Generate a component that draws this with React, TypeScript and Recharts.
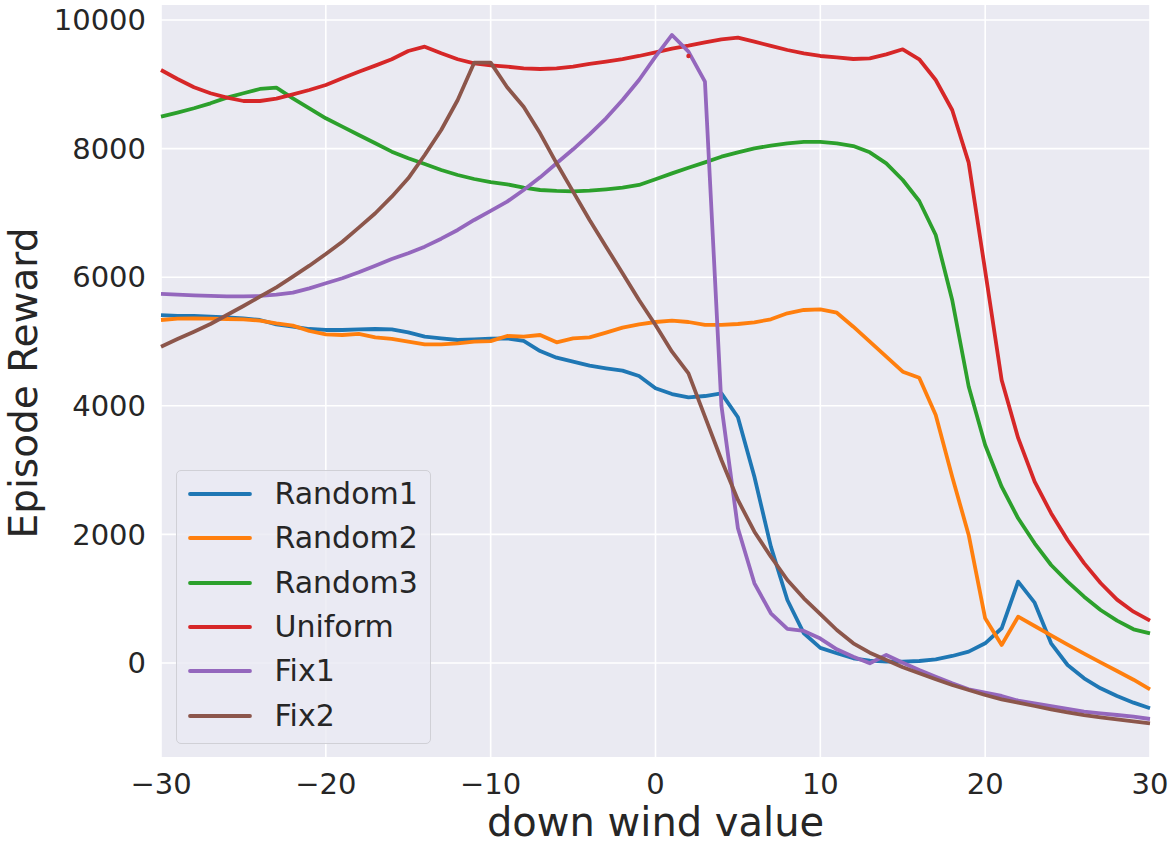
import React from 'react'
import { ComposedChart, Line, XAxis, YAxis, CartesianGrid, Label } from 'recharts'

// down wind values, one sample per integer step
const windValues = [
  -30, -29, -28, -27, -26, -25, -24, -23, -22, -21, -20, -19, -18, -17, -16, -15, -14, -13, -12, -11,
  -10, -9, -8, -7, -6, -5, -4, -3, -2, -1, 0, 1, 2, 3, 4, 5, 6, 7, 8, 9,
  10, 11, 12, 13, 14, 15, 16, 17, 18, 19, 20, 21, 22, 23, 24, 25, 26, 27, 28, 29, 30,
]

const random1 = [
  5410, 5397, 5397, 5386, 5376, 5360, 5334, 5267, 5230, 5194, 5179, 5179, 5189, 5194, 5189, 5143, 5075, 5049, 5023, 5034,
  5045, 5049, 5008, 4852, 4748, 4686, 4624, 4583, 4546, 4463, 4272, 4183, 4132, 4152, 4194, 3821, 2897, 1809, 980, 462,
  235, 151, 73, 36, 20, 20, 31, 57, 109, 176, 306, 540, 1265, 938, 306, -31, -238, -394, -513, -617, -705,
]

const random2 = [
  5334, 5355, 5360, 5355, 5350, 5345, 5324, 5282, 5246, 5163, 5111, 5101, 5117, 5065, 5039, 4997, 4956, 4956, 4972, 4997,
  5005, 5086, 5075, 5101, 4987, 5049, 5065, 5137, 5215, 5267, 5303, 5324, 5303, 5257, 5257, 5272, 5298, 5345, 5438, 5490,
  5500, 5448, 5230, 4997, 4764, 4530, 4437, 3857, 2897, 1991, 695, 280, 720, 575, 430, 285, 145, 10, -125, -260, -410,
]

const random3 = [
  8497, 8559, 8627, 8704, 8792, 8860, 8927, 8947, 8782, 8627, 8471, 8341, 8211, 8082, 7952, 7849, 7760, 7667, 7589, 7527,
  7478, 7444, 7392, 7356, 7341, 7336, 7346, 7367, 7392, 7434, 7522, 7615, 7703, 7786, 7874, 7942, 8004, 8045, 8082, 8103,
  8103, 8082, 8040, 7942, 7771, 7512, 7185, 6656, 5645, 4300, 3390, 2742, 2250, 1861, 1524, 1265, 1031, 824, 658, 524, 460,
]

const uniform = [
  9222, 9082, 8953, 8860, 8792, 8740, 8740, 8776, 8844, 8911, 8989, 9093, 9196, 9290, 9389, 9518, 9585, 9482, 9389, 9326,
  9295, 9274, 9248, 9238, 9248, 9274, 9316, 9352, 9393, 9440, 9497, 9554, 9600, 9652, 9700, 9725, 9663, 9596, 9533, 9482,
  9440, 9420, 9393, 9404, 9466, 9544, 9389, 9067, 8600, 7781, 6100, 4400, 3500, 2820, 2330, 1913, 1553, 1244, 985, 798, 658,
]

const fix1 = [
  5739, 5728, 5718, 5708, 5703, 5703, 5708, 5728, 5759, 5827, 5905, 5983, 6076, 6179, 6283, 6372, 6475, 6599, 6734, 6890,
  7030, 7175, 7356, 7553, 7771, 7989, 8222, 8471, 8756, 9067, 9430, 9767, 9507, 9041, 4000, 2095, 1239, 773, 529, 498,
  380, 213, 98, -5, 124, 5, -109, -213, -316, -409, -462, -513, -586, -627, -669, -715, -757, -782, -809, -835, -871,
]

const fix2 = [
  4919, 5039, 5153, 5272, 5412, 5552, 5697, 5843, 6008, 6179, 6361, 6552, 6770, 6994, 7252, 7538, 7900, 8289, 8756, 9336,
  9336, 8953, 8652, 8237, 7771, 7330, 6890, 6475, 6060, 5645, 5257, 4841, 4505, 3831, 3157, 2535, 2042, 1653, 1291, 1006,
  760, 513, 306, 161, 47, -67, -160, -254, -342, -420, -498, -565, -617, -669, -720, -767, -809, -845, -876, -907, -938,
]

// stray red point near the Uniform curve
const strayPoint = [{ x: 2, y: 9440 }]

const xTicks = [-30, -20, -10, 0, 10, 20, 30]
const yTicks = [0, 2000, 4000, 6000, 8000, 10000]

const seriesList = [
  { name: 'Random1', values: random1, color: '#1f77b4' },
  { name: 'Random2', values: random2, color: '#ff7f0e' },
  { name: 'Random3', values: random3, color: '#2ca02c' },
  { name: 'Uniform', values: uniform, color: '#d62728' },
  { name: 'Fix1', values: fix1, color: '#9467bd' },
  { name: 'Fix2', values: fix2, color: '#8c564b' },
]

const rows = windValues.map((x, i) => {
  const row: Record<string, number> = { x }
  seriesList.forEach((s) => { row[s.name] = s.values[i] })
  return row
})

const FONT = '"DejaVu Sans", sans-serif'
const TEXT = '#262626'

const fmt = (v: number) => (v < 0 ? '\u2212' + Math.abs(v) : String(v))

export default function App() {
  return (
    <div style={{ position: 'absolute', left: 0, top: 0, width: 1172, height: 846, background: '#fff', fontFamily: FONT }}>
      <ComposedChart width={1172} height={846} data={rows} margin={{ top: 5, right: 22, bottom: 0, left: 0 }}>
        <CartesianGrid fill="#eaeaf2" fillOpacity={1} stroke="#ffffff" strokeWidth={1.6}
          horizontalValues={yTicks} verticalValues={xTicks} />
        <XAxis type="number" dataKey="x" domain={[-30, 30]} ticks={xTicks} tickFormatter={fmt}
          height={89} axisLine={false} tickLine={false} tickSize={0} tickMargin={16}
          tick={{ fill: TEXT, fontSize: 29, fontFamily: FONT }} interval={0}>
          <Label value="down wind value" position="insideBottom" offset={10}
            style={{ fill: TEXT, fontSize: 40, fontFamily: FONT }} />
        </XAxis>
        <YAxis type="number" domain={[-1462, 10233]} ticks={yTicks} allowDataOverflow
          width={161} axisLine={false} tickLine={false} tickSize={0} tickMargin={15}
          tick={{ fill: TEXT, fontSize: 29, fontFamily: FONT }} interval={0}>
          <Label content={() => (
            <text x={37} y={383} transform="rotate(-90, 37, 383)" textAnchor="middle"
              style={{ fill: TEXT, fontSize: 39, fontFamily: FONT }}>Episode Reward</text>
          )} />
        </YAxis>
        {seriesList.map((s) => (
          <Line key={s.name} type="linear" dataKey={s.name} stroke={s.color} strokeWidth={3.8}
            dot={false} activeDot={false} strokeLinejoin="round" isAnimationActive={false} />
        ))}
        <Line data={strayPoint} dataKey="y" stroke="none" isAnimationActive={false}
          dot={{ r: 2.2, fill: '#d62728', stroke: 'none' }} activeDot={false} legendType="none" />
      </ComposedChart>

      <div style={{
        position: 'absolute', left: 176, top: 470, width: 253, height: 272,
        border: '1px solid #d0d0d6', borderRadius: 5, background: 'rgba(234,234,242,0.8)',
        boxSizing: 'content-box',
      }}>
        {seriesList.map((s, i) => (
          <div key={s.name} style={{
            position: 'absolute', left: 0, top: 22.7 + i * 44.4 - 22, height: 44, width: 253,
            display: 'flex', alignItems: 'center',
          }}>
            <svg width={64} height={8} style={{ marginLeft: 10.5, display: 'block' }}>
              <line x1={2} y1={4} x2={62} y2={4} stroke={s.color} strokeWidth={3.8} strokeLinecap="round" />
            </svg>
            <span style={{ marginLeft: 23, fontSize: 30, color: TEXT, fontFamily: FONT, lineHeight: '44px' }}>
              {s.name}
            </span>
          </div>
        ))}
      </div>
    </div>
  )
}
